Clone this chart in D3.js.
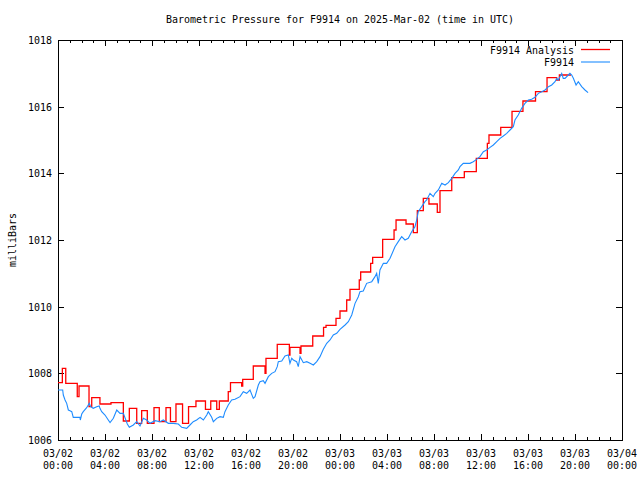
<!DOCTYPE html>
<html>
<head>
<meta charset="utf-8">
<script src="https://cdn.jsdelivr.net/npm/d3@7"></script>
<style>
body { margin: 0; background: #fff; }
svg text { font-family: "DejaVu Sans Mono", monospace; font-size: 11px; fill: #000; }
</style>
</head>
<body>
<svg width="640" height="480"></svg>
<script>
// hours after 2025-03-02 00:00 UTC, pressure in mb
var startTime = Date.UTC(2025, 2, 2, 0, 0);
var endHour = 48;

var analysisSeries = [
  [0, 1007.72], [0.37, 1008.15], [0.66, 1007.70], [1.64, 1007.30], [1.79, 1007.62],
  [2.64, 1007.00], [2.87, 1007.27], [3.57, 1007.08], [4.51, 1007.12], [5.56, 1006.57],
  [6.07, 1006.95], [6.70, 1006.50], [7.12, 1006.88], [7.60, 1006.50], [8.17, 1006.97],
  [8.62, 1006.55], [9.19, 1006.97], [9.57, 1006.55], [10.04, 1007.08], [10.60, 1006.50],
  [11.11, 1007.00], [11.74, 1007.17], [12.55, 1006.92], [13.00, 1007.17], [13.51, 1006.92],
  [13.73, 1007.17], [14.49, 1007.45], [14.68, 1007.72], [15.63, 1007.62], [15.72, 1007.82],
  [16.62, 1008.22], [17.62, 1008.00], [17.70, 1008.45], [18.66, 1008.87], [19.69, 1008.55],
  [19.74, 1008.78], [20.60, 1008.60], [20.68, 1008.82], [21.68, 1009.12], [22.60, 1009.38],
  [22.81, 1009.44], [23.66, 1009.65], [24.00, 1009.87], [24.57, 1010.20], [24.85, 1010.52],
  [25.64, 1010.80], [25.76, 1011.04], [26.61, 1011.30], [26.78, 1011.48], [27.63, 1012.02],
  [28.60, 1012.30], [28.77, 1012.60], [29.62, 1012.48], [30.24, 1012.22], [30.58, 1012.88],
  [31.09, 1013.25], [31.57, 1013.08], [32.28, 1012.83], [32.51, 1013.48], [33.51, 1013.87],
  [34.58, 1014.05], [35.60, 1014.45], [36.54, 1014.90], [36.68, 1015.15], [37.68, 1015.38],
  [38.64, 1015.86], [39.57, 1016.17], [40.64, 1016.45], [41.62, 1016.87], [42.44, 1016.80],
  [42.67, 1016.95], [43.66, 1016.95]
];

var obsSeries = [
  [0, 1007.50], [0.40, 1007.50], [0.45, 1007.35], [0.60, 1007.20], [0.74, 1007.10],
  [0.88, 1006.90], [1.02, 1006.88], [1.17, 1006.85], [1.30, 1006.68], [1.87, 1006.68],
  [1.90, 1006.60], [2.02, 1006.78], [2.15, 1006.85], [2.44, 1006.97], [2.66, 1007.10],
  [2.78, 1007.00], [3.00, 1006.95], [3.29, 1007.00], [3.51, 1007.02], [3.57, 1006.95],
  [3.72, 1006.85], [4.00, 1006.75], [4.28, 1006.60], [4.43, 1006.52], [4.71, 1006.65],
  [5.00, 1006.90], [5.28, 1006.80], [5.56, 1006.80], [5.90, 1006.48], [6.07, 1006.38],
  [6.41, 1006.45], [6.70, 1006.55], [6.98, 1006.42], [7.26, 1006.65], [7.55, 1006.60],
  [7.83, 1006.50], [8.26, 1006.58], [8.68, 1006.55], [8.96, 1006.60], [9.39, 1006.50],
  [9.81, 1006.50], [10.24, 1006.48], [10.53, 1006.38], [10.95, 1006.35], [11.23, 1006.45],
  [11.51, 1006.55], [11.80, 1006.60], [12.09, 1006.68], [12.37, 1006.60], [12.66, 1006.75],
  [12.79, 1006.85], [13.08, 1006.68], [13.22, 1006.55], [13.51, 1006.65], [13.79, 1006.70],
  [14.07, 1006.68], [14.21, 1006.85], [14.49, 1007.05], [14.78, 1007.20], [15.06, 1007.22],
  [15.49, 1007.30], [15.77, 1007.45], [16.06, 1007.40], [16.34, 1007.50], [16.62, 1007.25],
  [16.77, 1007.30], [17.05, 1007.65], [17.19, 1007.75], [17.47, 1007.78], [17.62, 1007.70],
  [17.90, 1007.90], [18.19, 1008.00], [18.47, 1008.05], [18.66, 1008.20], [18.75, 1008.35],
  [19.04, 1008.37], [19.32, 1008.52], [19.60, 1008.55], [19.74, 1008.30], [19.89, 1008.45],
  [20.03, 1008.40], [20.31, 1008.35], [20.45, 1008.20], [20.60, 1008.50], [20.88, 1008.32],
  [21.17, 1008.35], [21.45, 1008.30], [21.73, 1008.25], [22.02, 1008.35], [22.30, 1008.50],
  [22.58, 1008.72], [22.87, 1008.90], [23.15, 1009.00], [23.43, 1009.15], [23.72, 1009.20],
  [24.00, 1009.32], [24.43, 1009.45], [24.71, 1009.55], [25.00, 1009.75], [25.28, 1010.10],
  [25.56, 1010.30], [25.70, 1010.45], [25.98, 1010.47], [26.27, 1010.70], [26.70, 1010.75],
  [26.98, 1010.90], [27.12, 1011.00], [27.26, 1010.70], [27.40, 1011.10], [27.69, 1011.30],
  [27.97, 1011.30], [28.26, 1011.45], [28.68, 1011.80], [28.96, 1011.95], [29.25, 1012.10],
  [29.53, 1012.00], [29.81, 1012.05], [30.10, 1012.25], [30.38, 1012.40], [30.53, 1012.60],
  [30.66, 1012.85], [30.95, 1013.00], [31.23, 1013.15], [31.38, 1013.20], [31.66, 1013.40],
  [31.94, 1013.30], [32.09, 1013.40], [32.37, 1013.50], [32.66, 1013.70], [32.94, 1013.65],
  [33.22, 1013.72], [33.51, 1013.85], [33.79, 1014.00], [34.07, 1014.10], [34.21, 1014.20],
  [34.49, 1014.30], [34.78, 1014.30], [35.06, 1014.30], [35.34, 1014.35], [35.63, 1014.42],
  [35.91, 1014.50], [36.20, 1014.65], [36.48, 1014.70], [36.77, 1014.78], [37.05, 1014.85],
  [37.34, 1014.95], [37.62, 1015.05], [37.90, 1015.12], [38.19, 1015.20], [38.47, 1015.30],
  [38.75, 1015.40], [38.89, 1015.60], [39.17, 1015.75], [39.46, 1015.95], [39.74, 1016.10],
  [40.03, 1016.20], [40.31, 1016.22], [40.60, 1016.28], [40.88, 1016.40], [41.17, 1016.45],
  [41.45, 1016.50], [41.74, 1016.60], [42.02, 1016.65], [42.30, 1016.75], [42.44, 1016.85],
  [42.58, 1016.80], [42.72, 1016.90], [42.87, 1017.00], [43.00, 1016.85], [43.15, 1016.85],
  [43.43, 1016.95], [43.57, 1017.00], [43.72, 1016.95], [43.86, 1016.85], [44.09, 1016.65],
  [44.28, 1016.75], [44.57, 1016.60], [44.85, 1016.50], [45.11, 1016.42]
];

var yTicks = [1006, 1008, 1010, 1012, 1014, 1016, 1018];
var seriesNames = ["F9914 Analysis", "F9914"];
var seriesColors = ["#ff0000", "#1e8cff"];
var seriesWidths = [1.3, 1.1];

var svg = d3.select("svg"),
  margin = { top: 40, right: 18, bottom: 40, left: 58 },
  width = +svg.attr("width") - margin.left - margin.right,
  height = +svg.attr("height") - margin.top - margin.bottom;

function toDate(h) { return new Date(startTime + h * 3600000); }

var x = d3.scaleUtc()
  .domain([toDate(0), toDate(endHour)])
  .range([0, width]);
var y = d3.scaleLinear()
  .domain([yTicks[0], yTicks[yTicks.length - 1]])
  .range([height, 0]);

// squeeze glyphs to the 6px cell of the original bitmap font
function fit(sel) {
  sel.each(function() {
    var n = this.textContent.length;
    d3.select(this).attr("textLength", n * 6).attr("lengthAdjust", "spacingAndGlyphs");
  });
}

svg.append("text")
  .attr("x", margin.left + width / 2)
  .attr("y", 23)
  .attr("text-anchor", "middle")
  .text("Barometric Pressure for F9914 on 2025-Mar-02 (time in UTC)")
  .call(fit);

svg.append("text")
  .attr("transform", "translate(16," + (margin.top + height / 2) + ") rotate(-90)")
  .attr("text-anchor", "middle")
  .text("milliBars")
  .call(fit);

var g = svg.append("g")
  .attr("transform", "translate(" + margin.left + "," + margin.top + ")");

var majorTicks = d3.utcHour.every(4).range(toDate(0), toDate(endHour + 1));
var minorTicks = d3.utcHour.every(1).range(toDate(0), toDate(endHour + 1));

// gnuplot style: ticks point inward and are mirrored on all four sides
function ticksOnly(axis, ticks, size) {
  return function(s) {
    s.call(axis.tickValues(ticks).tickSizeInner(size).tickSizeOuter(0).tickFormat(""));
    s.select(".domain").remove();
  };
}

var axes = g.append("g").attr("shape-rendering", "crispEdges");
var bottom = "translate(0," + height + ")";

axes.append("g").attr("transform", bottom).call(ticksOnly(d3.axisBottom(x), minorTicks, -3));
axes.append("g").attr("transform", bottom).call(ticksOnly(d3.axisBottom(x), majorTicks, -6));
axes.append("g").call(ticksOnly(d3.axisTop(x), minorTicks, -3));
axes.append("g").call(ticksOnly(d3.axisTop(x), majorTicks, -6));
axes.append("g").call(ticksOnly(d3.axisLeft(y), yTicks, -6));
axes.append("g").attr("transform", "translate(" + width + ",0)")
  .call(ticksOnly(d3.axisRight(y), yTicks, -6));

axes.selectAll(".tick line").attr("stroke", "#000");

axes.append("rect")
  .attr("x", 0).attr("y", 0)
  .attr("width", width).attr("height", height)
  .attr("fill", "none").attr("stroke", "#000");

// tick labels
var fmtDay = d3.utcFormat("%m/%d"), fmtTime = d3.utcFormat("%H:%M");
var xl = g.append("g").selectAll("text")
  .data(majorTicks)
  .enter().append("text")
  .attr("text-anchor", "middle");
xl.append("tspan").attr("x", function(d) { return x(d); }).attr("y", height + 17)
  .text(fmtDay).call(fit);
xl.append("tspan").attr("x", function(d) { return x(d); }).attr("y", height + 29)
  .text(fmtTime).call(fit);

g.append("g").selectAll("text")
  .data(yTicks)
  .enter().append("text")
  .attr("x", -6)
  .attr("y", function(d) { return y(d) + 4; })
  .attr("text-anchor", "end")
  .text(function(d) { return d; })
  .call(fit);

// data
var redLine = d3.line()
  .curve(d3.curveStepAfter)
  .x(function(d) { return x(toDate(d[0])); })
  .y(function(d) { return y(d[1]); });
var blueLine = d3.line()
  .x(function(d) { return x(toDate(d[0])); })
  .y(function(d) { return y(d[1]); });

g.append("path")
  .datum(analysisSeries)
  .attr("d", redLine)
  .attr("fill", "none")
  .attr("stroke", seriesColors[0])
  .attr("stroke-width", seriesWidths[0]);

g.append("path")
  .datum(obsSeries)
  .attr("d", blueLine)
  .attr("fill", "none")
  .attr("stroke", seriesColors[1])
  .attr("stroke-width", seriesWidths[1]);

// legend
var legend = g.append("g").selectAll("g")
  .data(seriesNames)
  .enter().append("g")
  .attr("transform", function(d, i) { return "translate(0," + (9.5 + i * 12.5) + ")"; });
legend.append("text")
  .attr("x", 516).attr("y", 4)
  .attr("text-anchor", "end")
  .text(function(d) { return d; })
  .call(fit);
legend.append("line")
  .attr("x1", 523).attr("x2", 552)
  .attr("stroke", function(d, i) { return seriesColors[i]; })
  .attr("stroke-width", function(d, i) { return seriesWidths[i]; });
</script>
</body>
</html>
